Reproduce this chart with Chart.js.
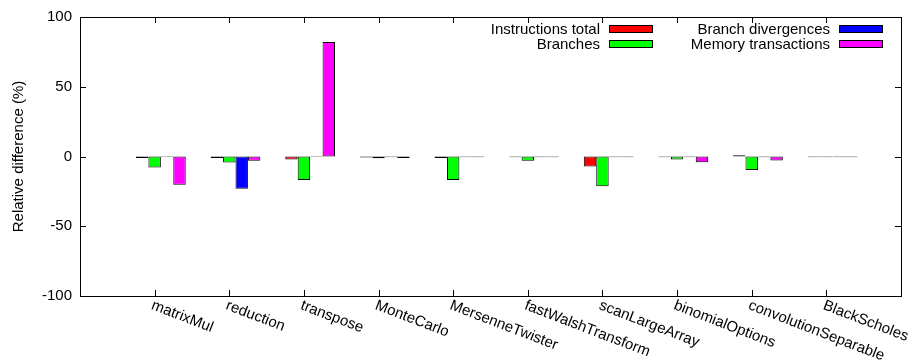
<!DOCTYPE html>
<html>
<head>
<meta charset="utf-8">
<script src="https://cdn.jsdelivr.net/npm/chart.js@4"></script>
<style>body{margin:0;background:#fff}</style>
</head>
<body>
<canvas id="chart" width="912" height="360"></canvas>
<script>
const categories = ['matrixMul', 'reduction', 'transpose', 'MonteCarlo', 'MersenneTwister',
  'fastWalshTransform', 'scanLargeArray', 'binomialOptions', 'convolutionSeparable', 'BlackScholes'];
const instructionsTotal = [-1.1, -1, -2.1, -0.7, -1, -0.5, -7.1, -0.5, 0.9, -0.6];
const branches = [-7.8, -4.3, -16.8, -1.2, -16.8, -3.1, -21.3, -2.2, -9.7, -0.6];
const branchDivergences = [-0.4, -23.2, -0.4, -0.5, -0.5, -0.5, -0.5, -0.5, -0.5, -0.5];
const memoryTransactions = [-20.3, -3, 82, -1, -0.5, -0.5, -0.6, -4.1, -2.8, -0.5];
const yTicks = [-100, -50, 0, 50, 100];

const FONT = '"Liberation Sans", Arial, Helvetica, sans-serif';
// gnuplot puts the tic on the 2nd bar of each cluster, half a bar off centre
const HALF_BAR = 1 / 12;

const series = [
  { label: 'Instructions total', data: instructionsTotal, color: '#ff0000' },
  { label: 'Branches', data: branches, color: '#00ff00' },
  { label: 'Branch divergences', data: branchDivergences, color: '#0000ff' },
  { label: 'Memory transactions', data: memoryTransactions, color: '#ff00ff' }
];

// frame, inward tics, rotated x labels and the gnuplot style key
const gnuplotLook = {
  id: 'gnuplotLook',
  afterDraw(chart) {
    const ctx = chart.ctx;
    const area = chart.chartArea;
    const x = chart.scales.x;
    const y = chart.scales.y;
    ctx.save();
    ctx.strokeStyle = '#000';
    ctx.lineWidth = 1;
    ctx.strokeRect(Math.round(area.left) + 0.5, Math.round(area.top) + 0.5,
      Math.round(area.right - area.left), Math.round(area.bottom - area.top));

    ctx.beginPath();
    categories.forEach((c, i) => {
      const px = Math.round(x.getPixelForValue(i - HALF_BAR)) + 0.5;
      ctx.moveTo(px, area.bottom); ctx.lineTo(px, area.bottom - 6);
      ctx.moveTo(px, area.top); ctx.lineTo(px, area.top + 6);
    });
    yTicks.forEach(v => {
      const py = Math.round(y.getPixelForValue(v)) + 0.5;
      ctx.moveTo(area.left, py); ctx.lineTo(area.left + 6, py);
      ctx.moveTo(area.right, py); ctx.lineTo(area.right - 6, py);
    });
    ctx.stroke();

    ctx.fillStyle = '#000';
    ctx.font = '15px ' + FONT;
    ctx.textAlign = 'left';
    ctx.textBaseline = 'top';
    categories.forEach((c, i) => {
      const px = x.getPixelForValue(i - HALF_BAR);
      ctx.save();
      ctx.translate(px, area.bottom + 2);
      ctx.rotate(21 * Math.PI / 180);
      ctx.fillText(c, 0, 0);
      ctx.restore();
    });

    // key: two columns, text right aligned, sample box after it
    const keyCols = [600, 830];
    const keyRows = [34, 49];
    ctx.textAlign = 'right';
    ctx.textBaseline = 'alphabetic';
    series.forEach((s, k) => {
      const tx = keyCols[Math.floor(k / 2)];
      const ty = keyRows[k % 2];
      ctx.fillStyle = '#000';
      ctx.fillText(s.label, tx, ty);
      ctx.fillStyle = s.color;
      ctx.fillRect(tx + 9, ty - 9, 43, 8);
      ctx.strokeRect(tx + 9.5, ty - 8.5, 43, 7);
    });
    ctx.restore();
  }
};

new Chart(document.getElementById('chart'), {
  type: 'bar',
  data: {
    labels: categories.map((c, i) => i),
    datasets: series.map(s => ({
      label: s.label,
      data: s.data,
      backgroundColor: s.color,
      borderColor: '#000',
      borderWidth: 1,
      borderSkipped: false,
      categoryPercentage: 4 / 6,
      barPercentage: 1
    }))
  },
  options: {
    responsive: false,
    animation: false,
    layout: { padding: { top: 15, right: 11, left: 0, bottom: 0 } },
    plugins: { legend: { display: false }, tooltip: { enabled: false } },
    scales: {
      x: {
        type: 'linear',
        offset: false,
        min: -1 - HALF_BAR,
        max: categories.length - HALF_BAR,
        ticks: { display: false },
        grid: { display: false },
        border: { display: false },
        afterBuildTicks: s => { s.ticks = categories.map((c, i) => ({ value: i - HALF_BAR })); },
        afterFit: s => { s.height = 64; }
      },
      y: {
        min: -100,
        max: 100,
        ticks: { stepSize: 50, color: '#000', font: { family: FONT, size: 15 }, padding: 8 },
        grid: { display: false, drawTicks: false },
        border: { display: false },
        title: {
          display: true,
          text: 'Relative difference (%)',
          color: '#000',
          font: { family: FONT, size: 15 },
          padding: { top: 10, bottom: 0 }
        },
        afterFit: s => { s.width = 80; }
      }
    }
  },
  plugins: [gnuplotLook]
});
</script>
</body>
</html>
